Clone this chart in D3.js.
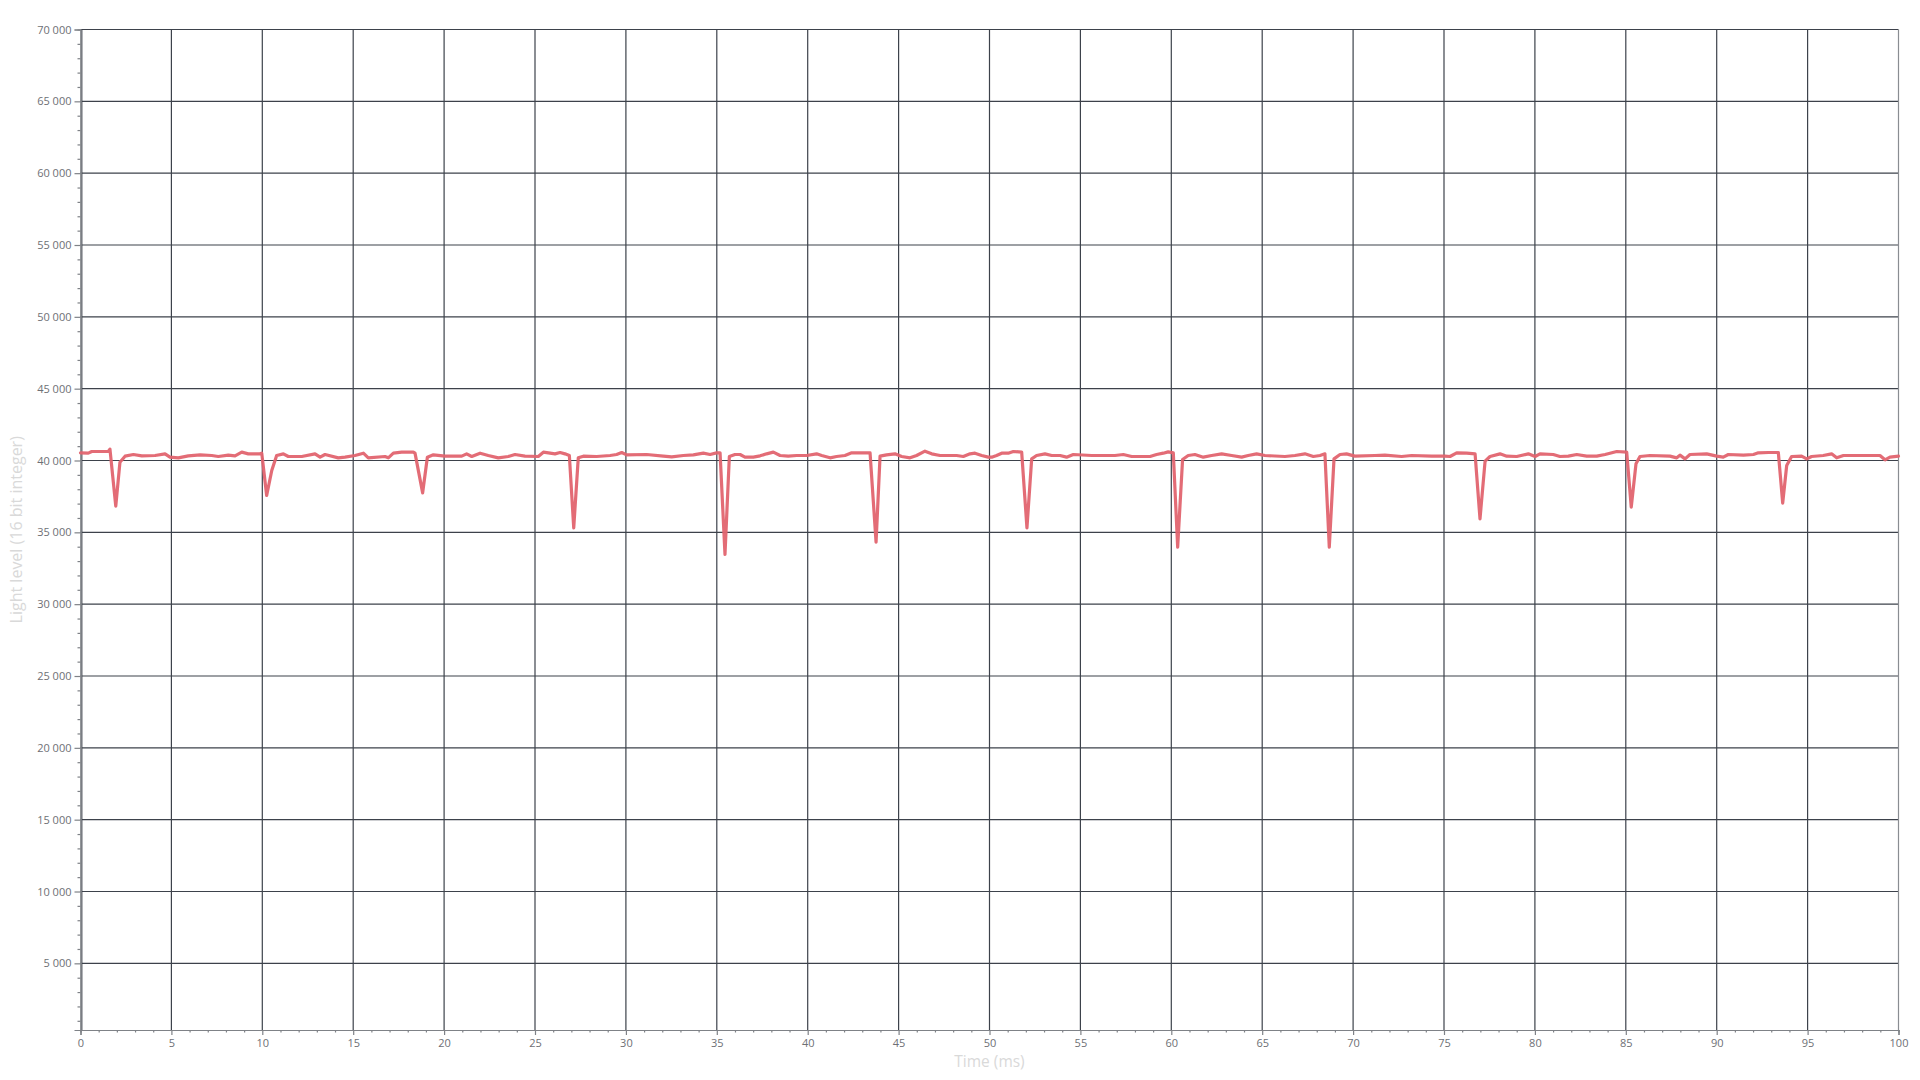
<!DOCTYPE html>
<html>
<head>
<meta charset="utf-8">
<script src="https://cdn.jsdelivr.net/npm/d3@7"></script>
<style>
  html, body { margin: 0; padding: 0; background: #fff; }
  svg { display: block; font-family: "Open Sans", "Noto Sans", sans-serif; }
</style>
</head>
<body>
<svg id="chart" width="1920" height="1080"></svg>
<script>
// ---- data ----
const timeMs = [
  0, 0.43, 0.62, 1.53, 1.62, 1.94, 2.17, 2.45, 2.91, 3.37, 4.10, 4.65, 4.92, 5.38, 5.93, 6.58, 7.22, 7.58, 8.13, 8.50,
  8.87, 9.23, 9.87, 9.97, 10.24, 10.52, 10.79, 11.16, 11.43, 12.17, 12.90, 13.18, 13.45, 14.18, 14.55, 15.10, 15.56, 15.83, 16.75, 16.93,
  17.21, 17.67, 18.31, 18.40, 18.82, 19.08, 19.41, 20.05, 20.97, 21.24, 21.52, 21.98, 22.43, 22.98, 23.53, 23.90, 24.45,
  25.18, 25.46, 25.83, 26.10, 26.38, 26.65, 26.89, 27.13, 27.38, 27.66, 28.39, 29.13, 29.49, 29.77, 30.04, 31.14, 32.06, 32.52, 33.16,
  33.71, 34.26, 34.63, 34.99, 35.18, 35.45, 35.69, 36.00, 36.28, 36.55, 37.01, 37.38, 37.74, 38.11, 38.48, 38.93, 39.39, 39.94, 40.49,
  40.77, 41.23, 41.59, 42.05, 42.42, 43.43, 43.76, 43.98, 44.34, 44.80, 45.17, 45.63, 45.99, 46.45, 46.82, 47.28, 48.19, 48.56, 48.93,
  49.20, 49.57, 49.93,
  50.12, 50.39, 50.67, 51.03, 51.31, 51.77, 52.06, 52.32, 52.59, 53.05, 53.42, 53.88, 54.24, 54.61, 55.62, 56.90, 57.36, 57.82, 58.83,
  59.19, 59.56, 59.83, 60.11, 60.35, 60.62, 60.93, 61.30, 61.76, 62.22, 62.77, 63.32, 63.87, 64.23, 64.69, 65.15, 66.25, 66.80, 67.35,
  67.81, 68.18, 68.45, 68.69, 68.95, 69.28, 69.64, 70.10, 71.20, 71.75, 72.67, 73.22, 74.32, 75.05,
  75.33, 75.70, 76.25, 76.71, 76.98, 77.26, 77.53, 78.08, 78.45, 79.00, 79.64, 80.01, 80.28, 81.01, 81.38, 81.84, 82.30, 82.85, 83.40,
  83.86, 84.13, 84.50, 85.05, 85.30, 85.56, 85.78, 86.33, 87.43, 87.80, 87.98, 88.26, 88.53, 89.45, 90.00, 90.36, 90.64, 91.47, 92.02,
  92.29, 92.84, 93.39, 93.63, 93.85, 94.12, 94.67, 94.95, 95.22, 95.86, 96.32, 96.60, 96.97, 97.88, 98.98, 99.26, 99.53, 100
];
const lightLevel = [
  40534, 40510, 40626, 40626, 40790, 36820, 39884, 40302, 40418, 40325, 40348, 40464, 40232, 40186, 40325, 40394, 40348, 40278, 40371, 40325,
  40580, 40464, 40464, 40510, 37564, 39304, 40348, 40464, 40278, 40278, 40464, 40232, 40418, 40186, 40232, 40348, 40510, 40186, 40278, 40186,
  40510, 40580, 40580, 40510, 37750, 40232, 40394, 40302, 40302, 40464, 40278, 40510, 40348, 40186, 40278, 40418, 40302,
  40278, 40580, 40510, 40464, 40557, 40464, 40348, 35314, 40186, 40302, 40278, 40348, 40418, 40557, 40394, 40418, 40302, 40255, 40348,
  40394, 40510, 40418, 40534, 40534, 33458, 40278, 40418, 40418, 40232, 40232, 40325, 40464, 40580, 40348, 40302, 40348, 40348, 40464,
  40348, 40186, 40278, 40348, 40534, 40534, 34316, 40302, 40394, 40464, 40278, 40186, 40348, 40650, 40464, 40348, 40348, 40278, 40464,
  40510, 40348, 40232,
  40232, 40348, 40510, 40510, 40626, 40580, 35314, 40116, 40348, 40464, 40348, 40348, 40232, 40418, 40348, 40348, 40418, 40278, 40278,
  40418, 40510, 40603, 40534, 33968, 40070, 40348, 40418, 40232, 40348, 40464, 40348, 40232, 40348, 40464, 40348, 40278, 40348, 40464,
  40278, 40348, 40464, 33968, 40116, 40418, 40464, 40302, 40348, 40371, 40278, 40348, 40302, 40302,
  40278, 40534, 40510, 40464, 35940, 39954, 40278, 40464, 40302, 40278, 40464, 40278, 40464, 40418, 40278, 40302, 40418, 40302, 40302,
  40418, 40510, 40626, 40580, 36752, 39768, 40278, 40348, 40302, 40186, 40371, 40116, 40418, 40464, 40302, 40232, 40418, 40371, 40418,
  40534, 40557, 40557, 37030, 39652, 40278, 40302, 40116, 40278, 40348, 40464, 40186, 40348, 40348, 40348, 40046, 40232, 40302
];
const xTicks = [0, 5, 10, 15, 20, 25, 30, 35, 40, 45, 50, 55, 60, 65, 70, 75, 80, 85, 90, 95, 100];
const yTicks = [5000, 10000, 15000, 20000, 25000, 30000, 35000, 40000, 45000, 50000, 55000, 60000, 65000, 70000];
const xMinorTicks = d3.range(0, 101, 1);
const yMinorTicks = d3.range(1000, 70001, 1000);
const xTitle = "Time (ms)";
const yTitle = "Light level (16 bit integer)";

// ---- layout ----
const plotLeft = 80.5, plotRight = 1898.5, plotTop = 29.5, plotBottom = 1030;
const svg = d3.select("#chart");

const x = d3.scaleLinear().domain([0, 100]).range([plotLeft, plotRight]);
const y = d3.scaleLinear().domain([360, 70000]).range([plotBottom, plotTop]);

const fmt = d3.formatLocale({ decimal: ".", thousands: "\u00a0", grouping: [3], currency: ["", ""] }).format(",d");

// grid lines
const grid = svg.append("g");
grid.selectAll("line.v").data(xTicks.filter(d => d < 100)).join("line")
  .attr("x1", d => x(d) + (d === 0 ? 1.3 : 0)).attr("x2", d => x(d) + (d === 0 ? 1.3 : 0))
  .attr("y1", plotTop).attr("y2", plotBottom)
  .attr("stroke", "#3d424b").attr("stroke-width", 1.2);
grid.selectAll("line.h").data(yTicks).join("line")
  .attr("x1", plotLeft).attr("x2", plotRight)
  .attr("y1", d => y(d)).attr("y2", d => y(d))
  .attr("stroke", "#3d424b").attr("stroke-width", 1.2);
// right border
grid.append("line").attr("x1", plotRight).attr("x2", plotRight).attr("y1", plotTop).attr("y2", plotBottom)
  .attr("stroke", "#8a8d92").attr("stroke-width", 1.2);

// axes
const axisColor = "#7f8287";
const xAxis = svg.append("g").attr("transform", `translate(0,${plotBottom})`)
  .call(d3.axisBottom(x).tickValues(xTicks).tickSize(5).tickPadding(4).tickFormat(d3.format("d")));
const xMinor = svg.append("g").attr("transform", `translate(0,${plotBottom})`)
  .call(d3.axisBottom(x).tickValues(xMinorTicks.filter(d => d % 5 !== 0)).tickSize(2.5).tickFormat(""));
const yAxis = svg.append("g").attr("transform", `translate(${plotLeft},0)`)
  .call(d3.axisLeft(y).tickValues(yTicks).tickSize(6).tickPadding(3).tickFormat(fmt));
const yMinor = svg.append("g").attr("transform", `translate(${plotLeft},0)`)
  .call(d3.axisLeft(y).tickValues(yMinorTicks.filter(d => d % 5000 !== 0)).tickSize(3).tickFormat(""));

[xAxis, xMinor, yAxis, yMinor].forEach(g => {
  g.select(".domain").attr("stroke", axisColor).attr("stroke-width", 1.2);
  g.selectAll(".tick line").attr("stroke", axisColor).attr("stroke-width", 1.2);
  g.selectAll(".tick text").attr("fill", "#6e7075").style("font-size", "11px")
    .style("font-family", "'Open Sans', 'Noto Sans', sans-serif");
});

// series line
const line = d3.line().x((d, i) => x(timeMs[i])).y((d) => y(d));
svg.append("path")
  .datum(lightLevel)
  .attr("d", line)
  .attr("fill", "none")
  .attr("stroke", "#e2646f")
  .attr("stroke-width", 3.2)
  .attr("stroke-linejoin", "round")
  .attr("stroke-linecap", "round")
  .attr("opacity", 0.95);

// axis titles
svg.append("text")
  .attr("x", (plotLeft + plotRight) / 2).attr("y", 1067)
  .attr("text-anchor", "middle")
  .attr("fill", "#d9d9d9").style("font-size", "15.5px")
  .text(xTitle);
svg.append("text")
  .attr("transform", `translate(22,${(plotTop + plotBottom) / 2}) rotate(-90)`)
  .attr("text-anchor", "middle")
  .attr("fill", "#d9d9d9").style("font-size", "16px")
  .text(yTitle);
</script>
</body>
</html>
